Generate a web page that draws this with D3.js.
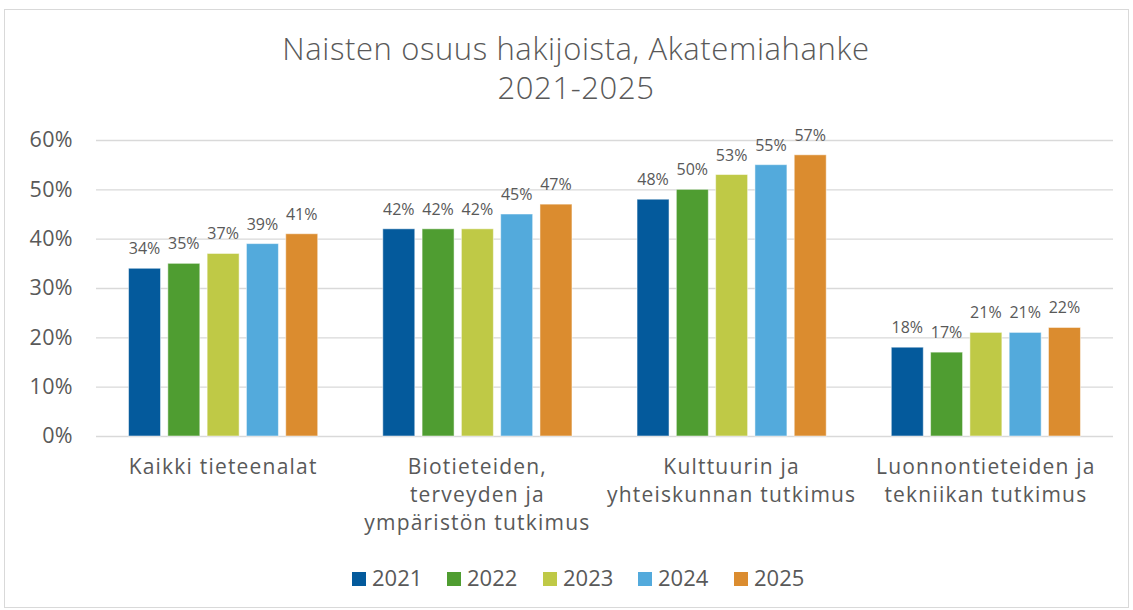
<!DOCTYPE html>
<html><head><meta charset="utf-8">
<script src="https://cdn.jsdelivr.net/npm/d3@7"></script>
<style>body{margin:0;background:#fff;} svg{display:block;}</style>
</head><body>
<svg id="chart" width="1133" height="610"></svg>
<script>
const categories = [
  ["Kaikki tieteenalat"],
  ["Biotieteiden,", "terveyden ja", "ympäristön tutkimus"],
  ["Kulttuurin ja", "yhteiskunnan tutkimus"],
  ["Luonnontieteiden ja", "tekniikan tutkimus"]
];
const years = ["2021", "2022", "2023", "2024", "2025"];
const v2021 = [34, 42, 48, 18];
const v2022 = [35, 42, 50, 17];
const v2023 = [37, 42, 53, 21];
const v2024 = [39, 45, 55, 21];
const v2025 = [41, 47, 57, 22];
const seriesValues = [v2021, v2022, v2023, v2024, v2025];
const colors = ["#045a9c", "#4f9d31", "#bfc946", "#53aadc", "#db8c2f"];
const yTicks = [0, 10, 20, 30, 40, 50, 60];
const titleLines = ["Naisten osuus hakijoista, Akatemiahanke", "2021-2025"];

const svg = d3.select("#chart");
const font = "'Open Sans', Lato, sans-serif";
svg.append("rect").attr("x", 4.5).attr("y", 9.5).attr("width", 1124).attr("height", 598)
  .attr("fill", "#fff").attr("stroke", "#d9d9d9");

const pLeft = 96, pRight = 1113, pTop = 140, pBottom = 436;
const x0 = d3.scaleBand().domain(d3.range(categories.length)).range([pLeft, pRight]);
const x1 = d3.scaleBand().domain(years).range([0, x0.bandwidth()]).paddingInner(0.186).paddingOuter(0.828);
const y = d3.scaleLinear().domain([0, 60]).range([pBottom, pTop]);

// title
svg.append("g").selectAll("text").data(titleLines).join("text")
  .attr("x", 576).attr("y", (d, i) => 60 + i * 39)
  .attr("text-anchor", "middle").attr("font-family", font).attr("font-weight", 300)
  .attr("font-size", 31).attr("letter-spacing", 0.6).attr("fill", "#595959").text(d => d);

// grid + y axis
const yAxis = d3.axisLeft(y).tickValues(yTicks).tickSize(-(pRight - pLeft)).tickFormat(d => d + "%").tickPadding(23);
const gy = svg.append("g").attr("transform", `translate(${pLeft},0)`).call(yAxis);
gy.select(".domain").remove();
gy.selectAll(".tick line").attr("stroke", "#d9d9d9").attr("stroke-width", 1.3);
gy.selectAll(".tick text").attr("font-family", font).attr("font-size", 21.5).attr("letter-spacing", 0.4)
  .attr("fill", "#595959");

// bars
const groups = svg.append("g").selectAll("g").data(categories).join("g")
  .attr("transform", (d, i) => `translate(${x0(i)},0)`);
groups.each(function(c, ci) {
  const g = d3.select(this);
  years.forEach((yr, si) => {
    const v = seriesValues[si][ci];
    g.append("rect").attr("x", x1(yr)).attr("y", y(v)).attr("width", x1.bandwidth())
      .attr("height", y(0) - y(v)).attr("fill", colors[si])
      .attr("stroke", "#ffffff").attr("stroke-opacity", 0.5).attr("stroke-width", 1);
    g.append("text").attr("x", x1(yr) + x1.bandwidth() / 2).attr("y", y(v) - 14)
      .attr("text-anchor", "middle").attr("font-family", font).attr("font-size", 16)
      .attr("fill", "#595959").text(v + "%");
  });
});

// category labels
const xAxis = d3.axisBottom(x0).tickSize(0).tickFormat("");
const gx = svg.append("g").attr("transform", `translate(0,${pBottom})`).call(xAxis);
gx.select(".domain").remove();
gx.selectAll(".tick").each(function(d) {
  d3.select(this).append("text").attr("text-anchor", "middle").attr("font-family", font)
    .attr("font-size", 21).attr("letter-spacing", 1.2).attr("fill", "#595959")
    .selectAll("tspan").data(categories[d]).join("tspan")
    .attr("x", 0).attr("y", (t, i) => 38 + i * 28).text(t => t);
});

// legend
const legendX = [352, 447, 543, 638, 734];
const lg = svg.append("g").selectAll("g").data(years).join("g")
  .attr("transform", (d, i) => `translate(${legendX[i]},586)`);
lg.append("rect").attr("x", 0).attr("y", -14).attr("width", 14).attr("height", 14)
  .attr("fill", (d, i) => colors[i]);
lg.append("text").attr("x", 20).attr("y", 0).attr("font-family", font).attr("font-size", 22)
  .attr("fill", "#595959").text(d => d);
</script>
</body></html>
